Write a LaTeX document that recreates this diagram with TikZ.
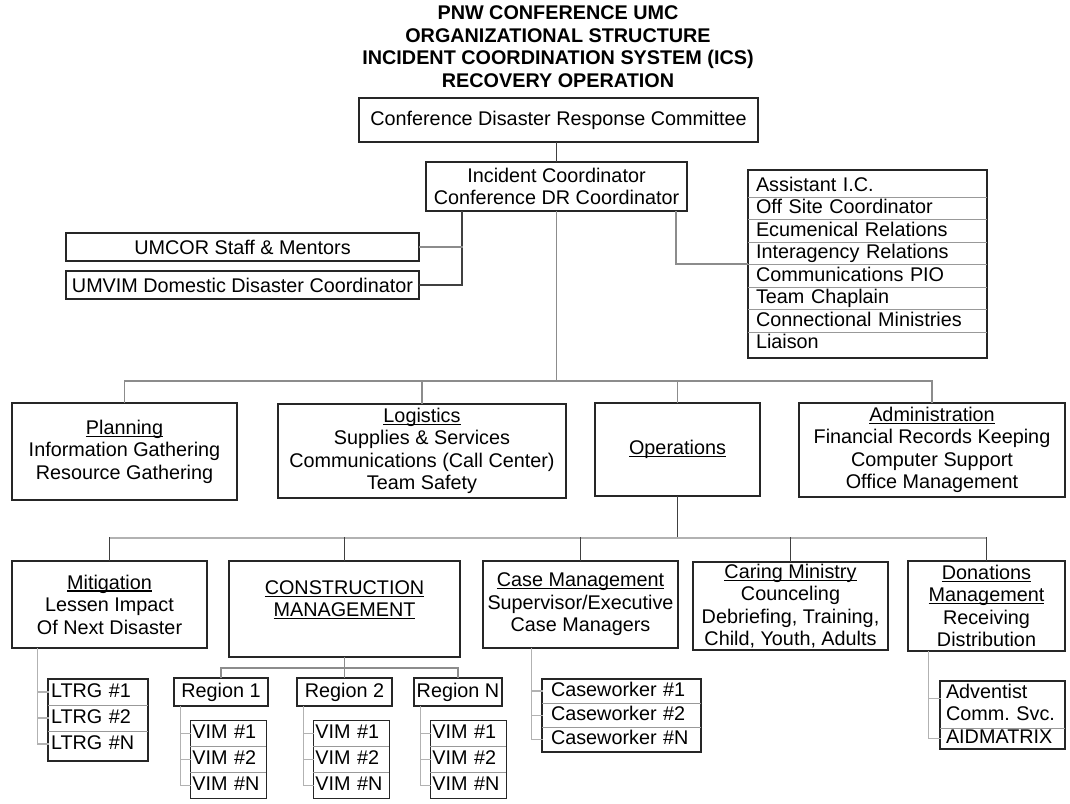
\documentclass[tikz,border=0pt]{standalone}
\usepackage{fontspec}
\setmainfont{Liberation Sans}
\usetikzlibrary{positioning}

\newcommand{\chartfont}{\fontsize{19.8}{22.5}\selectfont}
\newsavebox{\headbox}
\newcommand{\ulhead}[1]{\sbox\headbox{#1}\rlap{\rule[-2.6pt]{\wd\headbox}{1.2pt}}\usebox\headbox}

\begin{document}
\begin{tikzpicture}[x=1pt, y=-1pt, font=\chartfont,
		box/.style={draw=black!85, line width=1.4pt, align=center, inner sep=0pt},
		item/.style={inner ysep=0pt, outer sep=0pt, align=left, anchor=north, text height=14.5pt, text depth=4.5pt},
		frame/.style={draw=black!85, line width=1.4pt},
		rule/.style={draw=black!40, line width=1pt},
		link/.style={draw=black!45, line width=1.4pt, line cap=rect},
		stem/.style={draw=black!75, line width=1.4pt, line cap=rect},
		tie/.style={draw=black!30, line width=1.4pt, line cap=rect}]
		\useasboundingbox (0,0) rectangle (1070,803);

		% heading
		\node[font=\chartfont\bfseries, align=center] (title) at (558,46.5) {PNW CONFERENCE UMC\\ORGANIZATIONAL STRUCTURE\\INCIDENT COORDINATION SYSTEM (ICS)\\RECOVERY OPERATION};

		% command level
		\node[box, minimum width=399, minimum height=44] (cdrc) at (558.5,120) {Conference Disaster Response Committee};
		\node[box, minimum width=261, minimum height=49] (ic) at (556.5,186.5) {Incident Coordinator\\Conference DR Coordinator};
		\node[box, minimum width=353, minimum height=28] (umcor) at (242.5,247) {UMCOR Staff \& Mentors};
		\node[box, minimum width=353, minimum height=28] (umvim) at (242.5,285) {UMVIM Domestic Disaster Coordinator};
		\node[box, minimum width=239, minimum height=188] (staff) at (867.5,264) {};
		\foreach \t [count=\i] in {Assistant I.C., Off Site Coordinator, Ecumenical Relations, Interagency Relations, Communications PIO, Team Chaplain, Connectional Ministries, Liaison}
			\node[item, inner xsep=8pt, text width=223pt, minimum height=22.5pt] (s\i) at ([yshift={-5.5pt-(\i-1)*22.5pt}]staff.north) {\t};
		\foreach \i in {1,...,7}
			\draw[rule] (s\i.south west) -- (s\i.south east);

		% sections
		\node[box, minimum width=225, minimum height=97] (plan) at (124.5,451.5) {\ulhead{Planning}\\Information Gathering\\Resource Gathering};
		\node[box, minimum width=288, minimum height=94] (logi) at (422,451) {\ulhead{Logistics}\\Supplies \& Services\\Communications (Call Center)\\Team Safety};
		\node[box, minimum width=165, minimum height=93] (ops) at (677.5,449.5) {\ulhead{Operations}};
		\node[box, minimum width=266, minimum height=94] (admin) at (932,450) {\ulhead{Administration}\\Financial Records Keeping\\Computer Support\\Office Management};

		% operations branches
		\node[box, minimum width=195, minimum height=87] (miti) at (109.5,604.5) {\ulhead{Mitigation}\\Lessen Impact\\Of Next Disaster};
		\node[box, minimum width=231, minimum height=96] (cons) at (344.5,609) {\ulhead{CONSTRUCTION}\\\ulhead{MANAGEMENT}\rule[-21pt]{0pt}{21pt}};
		\node[box, minimum width=195, minimum height=87] (casem) at (580.5,604.5) {\ulhead{Case Management}\\Supervisor/Executive\\Case Managers};
		\node[box, minimum width=195, minimum height=88] (caring) at (790.5,606) {\ulhead{Caring Ministry}\\Counceling\\Debriefing, Training,\\Child, Youth, Adults};
		\node[box, minimum width=157, minimum height=90] (dona) at (986.5,606) {\ulhead{Donations}\\\ulhead{Management}\\Receiving\\Distribution};

		\node[box, minimum width=94, minimum height=28] (reg1) at (221,692) {Region 1};
		\node[box, minimum width=95, minimum height=28] (reg2) at (344.5,692) {Region 2};
		\node[box, minimum width=88, minimum height=28] (regn) at (458,692) {Region N};

		% connectors
		\coordinate (icl) at (462,0);
		\coordinate (icr) at (676,0);
		\coordinate (bar1) at (0,381);
		\coordinate (bar2) at (0,538);
		\coordinate (bar3) at (0,668);
		\draw[stem] (cdrc.south -| ic.north) -- (ic.north);
		\draw[stem] (icl |- ic.south) |- (umvim.east);
		\draw[link] (icl |- umcor.east) -- (umcor.east);
		\draw[link] (icr |- ic.south) |- (staff.west);
		\draw[link] (ic.south) -- (ic.south |- bar1);
		\draw[link] (plan.north |- bar1) -- (admin.north |- bar1);
		\foreach \n in {plan,logi,ops,admin}
			\draw[link] (\n.north |- bar1) -- (\n.north);
		\draw[stem] (ops.south) -- (ops.south |- bar2);
		\draw[tie] (miti.north |- bar2) -- (dona.north |- bar2);
		\foreach \n in {miti,cons,casem,caring,dona}
			\draw[stem] (\n.north |- bar2) -- (\n.north);
		\draw[link] (cons.south) -- (cons.south |- bar3);
		\draw[link] (reg1.north |- bar3) -- (regn.north |- bar3);
		\foreach \n in {reg1,reg2,regn}
			\draw[link] (\n.north |- bar3) -- (\n.north);

		% LTRG list
		\node[item, inner xsep=3pt, text width=94pt, minimum height=26pt, anchor=north west] (ltrg1) at (48,679) {LTRG~\#1};
		\node[item, inner xsep=3pt, text width=94pt, minimum height=26pt] (ltrg2) [below=0pt of ltrg1] {LTRG~\#2};
		\node[item, inner xsep=3pt, text width=94pt, minimum height=26pt] (ltrg3) [below=0pt of ltrg2] {LTRG~\#N};
		\draw[frame] (ltrg1.north west) rectangle ([yshift=-4pt]ltrg3.south east);
		\coordinate (mtap) at ([xshift=26pt]miti.south west);
		\draw[tie] (mtap) |- (ltrg3.west);
		\foreach \i in {1,2} {
			\draw[rule] (ltrg\i.south west) -- (ltrg\i.south east);
			\draw[tie] (mtap |- ltrg\i.west) -- (ltrg\i.west);
		}

		% VIM lists
		\foreach \r in {reg1,reg2,regn} {
			\coordinate (\r-tap) at ([xshift=7pt]\r.south west);
			\node[item, inner xsep=2pt, text width=72pt, minimum height=26pt, anchor=north west] (\r-1) at ([xshift=17pt, yshift=-14pt]\r.south west) {VIM~\#1};
			\node[item, inner xsep=2pt, text width=72pt, minimum height=26pt] (\r-2) [below=0pt of \r-1] {VIM~\#2};
			\node[item, inner xsep=2pt, text width=72pt, minimum height=26pt] (\r-3) [below=0pt of \r-2] {VIM~\#N};
			\draw[frame] (\r-1.north west) rectangle (\r-3.south east);
			\draw[rule] (\r-1.south west) -- (\r-1.south east);
			\draw[rule] (\r-2.south west) -- (\r-2.south east);
			\draw[tie] (\r-tap) |- (\r-3.west);
			\draw[tie] (\r-tap |- \r-1.west) -- (\r-1.west);
			\draw[tie] (\r-tap |- \r-2.west) -- (\r-2.west);
		}

		% caseworkers
		\node[item, inner xsep=9pt, text width=141pt, minimum height=24.3pt, anchor=north west] (cw1) at (542,679) {Caseworker~\#1};
		\node[item, inner xsep=9pt, text width=141pt, minimum height=24.3pt] (cw2) [below=0pt of cw1] {Caseworker~\#2};
		\node[item, inner xsep=9pt, text width=141pt, minimum height=24.3pt] (cw3) [below=0pt of cw2] {Caseworker~\#N};
		\draw[frame] (cw1.north west) rectangle (cw3.south east);
		\coordinate (ctap) at ([xshift=49pt]casem.south west);
		\draw[tie] (ctap) |- (cw3.west);
		\foreach \i in {1,2} {
			\draw[rule] (cw\i.south west) -- (cw\i.south east);
			\draw[tie] (ctap |- cw\i.west) -- (cw\i.west);
		}

		% donation partners
		\node[item, inner xsep=6pt, text width=113pt, minimum height=47pt, text depth=27pt, anchor=north west] (ad1) at (940,681) {Adventist\\Comm.~Svc.};
		\node[item, inner xsep=6pt, text width=113pt, minimum height=21pt] (ad2) [below=0pt of ad1] {AIDMATRIX};
		\draw[frame] (ad1.north west) rectangle (ad2.south east);
		\draw[rule] (ad1.south west) -- (ad1.south east);
		\coordinate (dtap) at ([xshift=21pt]dona.south west);
		\draw[tie] (dtap) |- (ad2.west);
		\draw[tie] (dtap |- ad1.text) -- (ad1.west |- ad1.text);
\end{tikzpicture}
\end{document}
